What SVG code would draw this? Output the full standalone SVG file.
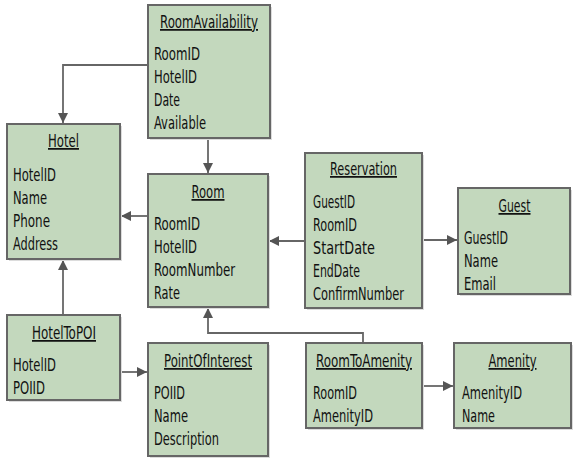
<svg xmlns="http://www.w3.org/2000/svg" width="587" height="460" viewBox="0 0 587 460">
<style>
.box{fill:#c3d8bd;stroke:#666;stroke-width:2}
.sh{fill:#dcdcdc}
text{font-family:"DejaVu Sans Condensed","DejaVu Sans",sans-serif;font-size:17.5px;fill:#111}
.t{text-anchor:middle;text-decoration:underline}
.c{fill:none;stroke:#666;stroke-width:1.8;marker-end:url(#ah)}
</style>
<defs>
<marker id="ah" viewBox="0 0 10 10" refX="10" refY="5" markerWidth="11" markerHeight="10" markerUnits="userSpaceOnUse" orient="auto">
<path d="M0,0 L10,5 L0,10 z" fill="#555"/>
</marker>
</defs>
<rect width="587" height="460" fill="#fff"/>
<g id="connectors">
<path class="c" d="M148,65 H63 V123"/>
<path class="c" d="M208,138 V173"/>
<path class="c" d="M148,216 H121"/>
<path class="c" d="M305,241 H269"/>
<path class="c" d="M422,240 H457"/>
<path class="c" d="M63,315 V260"/>
<path class="c" d="M120,372 H147"/>
<path class="c" d="M363,343 V333 H208 V308"/>
<path class="c" d="M422,386 H453"/>
</g>
<g id="RoomAvailability">
<rect class="sh" x="150" y="7" width="122" height="133"/>
<rect class="box" x="148" y="5" width="122" height="133"/>
<text class="t" x="209" y="28" textLength="98" lengthAdjust="spacingAndGlyphs">RoomAvailability</text>
<text x="154" y="60" textLength="46" lengthAdjust="spacingAndGlyphs">RoomID</text>
<text x="154" y="83" textLength="43" lengthAdjust="spacingAndGlyphs">HotelID</text>
<text x="154" y="106" textLength="26" lengthAdjust="spacingAndGlyphs">Date</text>
<text x="154" y="129" textLength="52" lengthAdjust="spacingAndGlyphs">Available</text>
</g>
<g id="Hotel">
<rect class="sh" x="9" y="126" width="113" height="135"/>
<rect class="box" x="7" y="124" width="113" height="135"/>
<text class="t" x="63.5" y="147" textLength="31" lengthAdjust="spacingAndGlyphs">Hotel</text>
<text x="13" y="181" textLength="43" lengthAdjust="spacingAndGlyphs">HotelID</text>
<text x="13" y="204" textLength="34" lengthAdjust="spacingAndGlyphs">Name</text>
<text x="13" y="227" textLength="37" lengthAdjust="spacingAndGlyphs">Phone</text>
<text x="13" y="250" textLength="45" lengthAdjust="spacingAndGlyphs">Address</text>
</g>
<g id="Room">
<rect class="sh" x="150" y="176" width="120" height="133"/>
<rect class="box" x="148" y="174" width="120" height="133"/>
<text class="t" x="208" y="198" textLength="33" lengthAdjust="spacingAndGlyphs">Room</text>
<text x="154" y="230" textLength="46" lengthAdjust="spacingAndGlyphs">RoomID</text>
<text x="154" y="253" textLength="43" lengthAdjust="spacingAndGlyphs">HotelID</text>
<text x="154" y="276" textLength="81" lengthAdjust="spacingAndGlyphs">RoomNumber</text>
<text x="154" y="299" textLength="26" lengthAdjust="spacingAndGlyphs">Rate</text>
</g>
<g id="Reservation">
<rect class="sh" x="307" y="155" width="117" height="155"/>
<rect class="box" x="305" y="153" width="117" height="155"/>
<text class="t" x="363.5" y="175" textLength="67" lengthAdjust="spacingAndGlyphs">Reservation</text>
<text x="313" y="208" textLength="42" lengthAdjust="spacingAndGlyphs">GuestID</text>
<text x="313" y="231" textLength="44" lengthAdjust="spacingAndGlyphs">RoomID</text>
<text x="313" y="254" textLength="62" lengthAdjust="spacingAndGlyphs">StartDate</text>
<text x="313" y="277" textLength="47" lengthAdjust="spacingAndGlyphs">EndDate</text>
<text x="313" y="300" textLength="91" lengthAdjust="spacingAndGlyphs">ConfirmNumber</text>
</g>
<g id="Guest">
<rect class="sh" x="460" y="190" width="112" height="106"/>
<rect class="box" x="458" y="188" width="112" height="106"/>
<text class="t" x="514.5" y="212" textLength="32" lengthAdjust="spacingAndGlyphs">Guest</text>
<text x="464" y="244" textLength="44" lengthAdjust="spacingAndGlyphs">GuestID</text>
<text x="464" y="267" textLength="34" lengthAdjust="spacingAndGlyphs">Name</text>
<text x="464" y="290" textLength="32" lengthAdjust="spacingAndGlyphs">Email</text>
</g>
<g id="HotelToPOI">
<rect class="sh" x="9" y="317" width="113" height="85"/>
<rect class="box" x="7" y="315" width="113" height="85"/>
<text class="t" x="64" y="339" textLength="64" lengthAdjust="spacingAndGlyphs">HotelToPOI</text>
<text x="13" y="371" textLength="43" lengthAdjust="spacingAndGlyphs">HotelID</text>
<text x="13" y="394" textLength="32" lengthAdjust="spacingAndGlyphs">POIID</text>
</g>
<g id="PointOfInterest">
<rect class="sh" x="150" y="345" width="120" height="113"/>
<rect class="box" x="148" y="343" width="120" height="113"/>
<text class="t" x="208" y="367" textLength="88" lengthAdjust="spacingAndGlyphs">PointOfInterest</text>
<text x="154" y="399" textLength="31" lengthAdjust="spacingAndGlyphs">POIID</text>
<text x="154" y="422" textLength="34" lengthAdjust="spacingAndGlyphs">Name</text>
<text x="154" y="445" textLength="65" lengthAdjust="spacingAndGlyphs">Description</text>
</g>
<g id="RoomToAmenity">
<rect class="sh" x="308" y="345" width="116" height="85"/>
<rect class="box" x="306" y="343" width="116" height="85"/>
<text class="t" x="364" y="367" textLength="96" lengthAdjust="spacingAndGlyphs">RoomToAmenity</text>
<text x="313" y="399" textLength="44" lengthAdjust="spacingAndGlyphs">RoomID</text>
<text x="313" y="422" textLength="60" lengthAdjust="spacingAndGlyphs">AmenityID</text>
</g>
<g id="Amenity">
<rect class="sh" x="456" y="345" width="117" height="85"/>
<rect class="box" x="454" y="343" width="117" height="85"/>
<text class="t" x="512.5" y="367" textLength="48" lengthAdjust="spacingAndGlyphs">Amenity</text>
<text x="462" y="399" textLength="60" lengthAdjust="spacingAndGlyphs">AmenityID</text>
<text x="462" y="422" textLength="33" lengthAdjust="spacingAndGlyphs">Name</text>
</g>
</svg>
